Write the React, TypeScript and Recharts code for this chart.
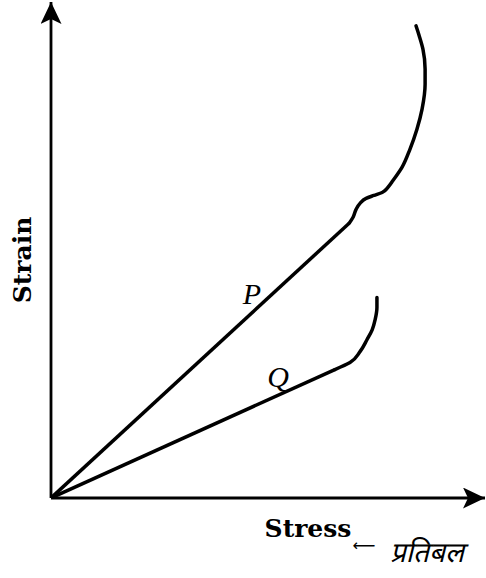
import { ComposedChart, Line, XAxis, YAxis, ReferenceLine, ReferenceDot, Customized } from "recharts";

// stress (x) / strain (y), arbitrary units 0-100
// each curve = a straight (proportional) part + a bent part
const pStraight = [
  { x: 0, y: 0 },
  { x: 68.7, y: 55.4 },
];

const pBend = [
  { x: 68.7, y: 55.4 },
  { x: 69.6, y: 56.6 },
  { x: 70.3, y: 58.2 },
  { x: 71.2, y: 59.4 },
  { x: 72.6, y: 60.4 },
  { x: 74.4, y: 61.0 },
  { x: 76.3, y: 61.6 },
  { x: 77.6, y: 62.6 },
  { x: 78.8, y: 64.0 },
  { x: 80.9, y: 66.7 },
  { x: 82.7, y: 70.3 },
  { x: 84.3, y: 74.3 },
  { x: 85.5, y: 78.4 },
  { x: 86.2, y: 83.4 },
  { x: 86.2, y: 86.5 },
  { x: 85.7, y: 90.5 },
  { x: 84.8, y: 93.3 },
  { x: 84.1, y: 95.2 },
];

const qStraight = [
  { x: 0, y: 0 },
  { x: 65.4, y: 25.9 },
];

const qBend = [
  { x: 65.4, y: 25.9 },
  { x: 68.9, y: 27.3 },
  { x: 71.2, y: 29.5 },
  { x: 72.8, y: 31.9 },
  { x: 74.0, y: 33.9 },
  { x: 74.7, y: 36.0 },
  { x: 75.1, y: 38.4 },
  { x: 75.1, y: 40.4 },
];

const curveLabels = [
  { name: "P", x: 46.3, y: 41.2 },
  { name: "Q", x: 52.3, y: 24.6 },
];

const serifBold = "'DejaVu Serif', serif";

function AxisTitles() {
  return (
    <g>
      <text
        x={0}
        y={0}
        transform="translate(31,260) rotate(-90)"
        textAnchor="middle"
        fontFamily={serifBold}
        fontWeight="bold"
        fontSize={25}
        fill="#000"
      >
        Strain
      </text>
      <text x={308} y={537} textAnchor="middle" fontFamily={serifBold} fontWeight="bold" fontSize={25} fill="#000">
        Stress
      </text>
      <text x={364} y={551} textAnchor="middle" fontFamily="'DejaVu Sans', sans-serif" fontSize={16} fill="#000">
        ⟵
      </text>
      <text
        x={427}
        y={562}
        textAnchor="middle"
        fontFamily="'Noto Sans Devanagari', 'Lohit Devanagari', 'Noto Sans', sans-serif"
        fontStyle="italic"
        fontSize={28}
        fill="#000"
      >
        प्रतिबल
      </text>
    </g>
  );
}

const seriesStyle = { stroke: "#000", strokeWidth: 3.5, dot: false, isAnimationActive: false } as const;

export default function App() {
  return (
    <div style={{ position: "absolute", left: 0, top: 0, background: "#fff" }}>
      <ComposedChart width={486} height={578} margin={{ top: 2, right: 1, bottom: 80, left: 51 }}>
        <defs>
          <marker
            id="arrowHead"
            markerUnits="userSpaceOnUse"
            markerWidth={24}
            markerHeight={22}
            refX={22}
            refY={10.5}
            orient="auto"
          >
            <path d="M0,0 L22,10.5 L0,21 L5,10.5 Z" fill="#000" />
          </marker>
        </defs>
        <XAxis type="number" dataKey="x" domain={[0, 100]} hide allowDataOverflow />
        <YAxis type="number" dataKey="y" domain={[0, 100]} hide allowDataOverflow />
        <ReferenceLine
          segment={[{ x: 0, y: 0 }, { x: 100, y: 0 }]}
          stroke="#000"
          strokeWidth={2.8}
          markerEnd="url(#arrowHead)"
          ifOverflow="visible"
        />
        <ReferenceLine
          segment={[{ x: 0, y: 0 }, { x: 0, y: 100 }]}
          stroke="#000"
          strokeWidth={2.8}
          markerEnd="url(#arrowHead)"
          ifOverflow="visible"
        />
        <Line data={pStraight} dataKey="y" type="linear" {...seriesStyle} />
        <Line data={pBend} dataKey="y" type="monotoneY" strokeLinecap="round" {...seriesStyle} />
        <Line data={qStraight} dataKey="y" type="linear" {...seriesStyle} />
        <Line data={qBend} dataKey="y" type="monotoneY" strokeLinecap="round" {...seriesStyle} />
        {curveLabels.map((l) => (
          <ReferenceDot
            key={l.name}
            x={l.x}
            y={l.y}
            r={0}
            ifOverflow="visible"
            label={{
              value: l.name,
              position: "center",
              fill: "#000",
              fontSize: 30,
              fontStyle: "italic",
              fontFamily: "'Liberation Serif', serif",
            }}
          />
        ))}
        <Customized component={AxisTitles} />
      </ComposedChart>
    </div>
  );
}
